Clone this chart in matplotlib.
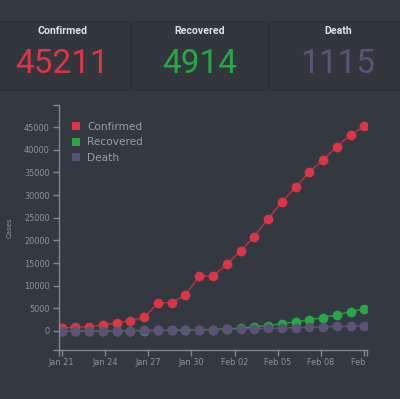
import matplotlib
matplotlib.use('Agg')
import matplotlib.pyplot as plt
import matplotlib.dates as mdates
import pandas as pd
from matplotlib.patches import FancyBboxPatch
from matplotlib.lines import Line2D
from matplotlib.transforms import Bbox

# ---------------- data ----------------
dates = pd.date_range('2020-01-21', '2020-02-11', periods=23)
confirmed = [600, 820, 950, 1330, 1700, 2280, 3030, 6190, 6260, 7960, 12100, 12100,
             14760, 17630, 20860, 24780, 28470, 31700, 35100, 37770, 40710, 43300, 45211]
recovered = [0, 0, 30, 40, 50, 60, 100, 110, 130, 170, 250, 300,
             480, 640, 880, 1200, 1600, 2050, 2450, 2950, 3600, 4250, 4914]
death = [9, 17, 25, 41, 56, 80, 106, 132, 170, 213, 259, 304,
         361, 425, 490, 563, 636, 722, 811, 908, 1016, 1070, 1115]
series_names = ['Confirmed', 'Recovered', 'Death']
totals = ['45211', '4914', '1115']
xtick_dates = ['2020-01-21', '2020-01-24', '2020-01-27', '2020-01-30',
               '2020-02-02', '2020-02-05', '2020-02-08', '2020-02-11']
xtick_labels = ['Jan 21', 'Jan 24', 'Jan 27', 'Jan 30', 'Feb 02', 'Feb 05', 'Feb 08', 'Feb 11']
ytick_values = [0, 5000, 10000, 15000, 20000, 25000, 30000, 35000, 40000, 45000]
y_label = 'Cases'

# ---------------- style ----------------
BG = '#343941'
CARD = '#32373e'
CARD_EDGE = '#2a2e34'
AXC = '#83878c'
TXT = '#8f9297'
COLORS = ['#dc3545', '#28a745', '#5b5376']
LINECOLORS = ['#c0323f', '#2a9a45', '#5b5376']

W, H = 400, 399
fig = plt.figure(figsize=(4, 3.99), dpi=100, facecolor=BG)

def fx(x):
    return x / W

def fy(y):
    return 1 - y / H

# cards
card_x = [(-6, 130), (132, 268), (270, 406)]
card_cx = [62, 200, 338]
for (x0, x1), cx, name, total, col in zip(card_x, card_cx, series_names, totals, COLORS):
    p = FancyBboxPatch((fx(x0), fy(90)), fx(x1 - x0), (90 - 22) / H,
                       boxstyle='round,pad=0,rounding_size=0.006',
                       transform=fig.transFigure, facecolor=CARD,
                       edgecolor=CARD_EDGE, linewidth=1.0)
    fig.patches.append(p)
    fig.text(fx(cx), fy(31), name, ha='center', va='center', fontsize=7.6,
             fontweight='bold', family='Roboto', color='#dde1e6')
    fig.text(fx(cx), fy(64), total, ha='center', va='center', fontsize=24,
             fontweight='normal', family='Roboto', color=col)

# chart
ax = fig.add_axes([fx(58.7), fy(350), (366.7 - 58.7) / W, (350 - 105) / H])
ax.set_facecolor('none')
for vals, lc, mc in zip([confirmed, recovered, death], LINECOLORS, COLORS):
    ax.plot(dates, vals, color=lc, lw=1.0, marker='o', markersize=7,
            markerfacecolor=mc, markeredgecolor=mc, markeredgewidth=0)

ax.set_ylim(-4200, 49900)
x0 = pd.Timestamp('2020-01-21') - pd.Timedelta(hours=5)
x1 = pd.Timestamp('2020-02-11') + pd.Timedelta(hours=4)
ax.set_xlim(x0, x1)

ax.set_xticks(pd.to_datetime(xtick_dates))
ax.set_xticklabels(xtick_labels)
ax.set_xticks([mdates.date2num(x0), mdates.date2num(x1)], minor=True)
ax.set_yticks(ytick_values)
ax.set_yticklabels([str(v) for v in ytick_values])
ax.set_yticks([-4200, 49900], minor=True)

for s in ['top', 'right']:
    ax.spines[s].set_visible(False)
for s in ['left', 'bottom']:
    ax.spines[s].set_color(AXC)
    ax.spines[s].set_linewidth(1.0)
ax.tick_params(which='both', color=AXC, length=4, width=1.0, labelcolor=TXT,
               labelsize=5.9)
ax.tick_params(axis='y', pad=2.5)
ax.tick_params(axis='x', pad=2.0)
ax.tick_params(which='minor', labelbottom=False, labelleft=False)
fig.text(fx(10), fy(228), y_label, rotation=90, ha='center', va='center',
         fontsize=5, color=TXT)

handles = [Line2D([], [], marker='s', ls='', color=c, markersize=6, markeredgewidth=0)
           for c in COLORS]
leg = ax.legend(handles, series_names, loc='upper left',
                bbox_to_anchor=(fx(71), fy(121.5)), bbox_transform=fig.transFigure,
                frameon=False, fontsize=7.6, labelcolor='#999ca1', borderaxespad=0,
                borderpad=0, handletextpad=0.55, labelspacing=0.55, handlelength=1.0)

fig.canvas.draw()
clip = Bbox.from_extents(0, 0, 367, H)
for lbl in ax.get_xticklabels():
    lbl.set_clip_box(clip)
    lbl.set_clip_on(True)

fig.savefig('out.png', dpi=100, facecolor=BG)
